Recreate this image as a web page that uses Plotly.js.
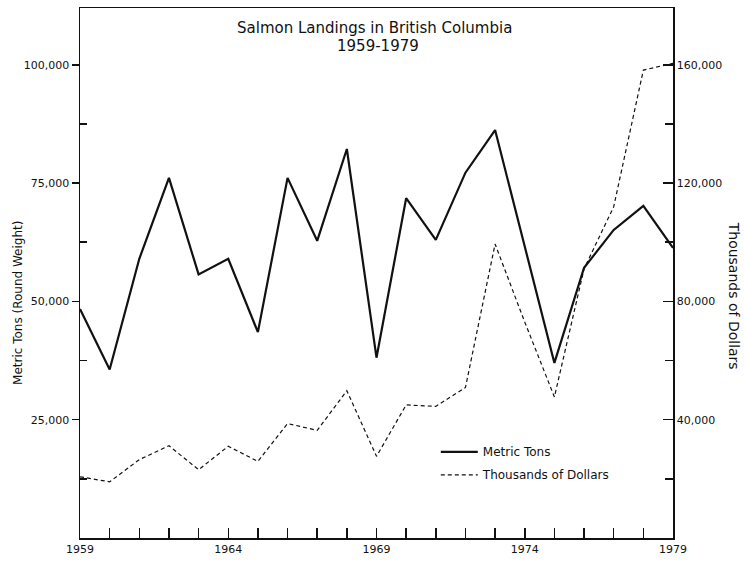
<!DOCTYPE html>
<html>
<head>
<meta charset="utf-8">
<script src="https://cdn.plot.ly/plotly-3.0.1.min.js"></script>
<style>
  html, body { margin: 0; padding: 0; background: #fff; }
  #chart { width: 744px; height: 562px; }
</style>
</head>
<body>
<div id="chart"></div>
<script>
// ---- data ----
const years = [1959,1960,1961,1962,1963,1964,1965,1966,1967,1968,1969,1970,1971,1972,1973,1974,1975,1976,1977,1978,1979];
const metricTons = [48400,35600,59000,76100,55700,59000,43500,76100,62800,82200,38100,71800,63000,77200,86200,61500,37000,57100,65100,70200,61300];
const thousandsDollars = [20700,19000,26500,31200,23100,31000,25900,38700,36400,49800,27600,45000,44500,50900,99400,73000,47700,91000,112000,158200,160500];

const xTickVals = [1959,1964,1969,1974,1979];
const leftTickVals = [25000,50000,75000,100000];
const leftMinorVals = [12500,37500,62500,87500];
const rightTickVals = [40000,80000,120000,160000];
const rightMinorVals = [20000,60000,100000,140000];

const FONT = 'DejaVu Sans, Liberation Sans, sans-serif';
const INK = '#111';

const traces = [
  {
    x: years, y: metricTons, type: 'scatter', mode: 'lines',
    name: 'Metric Tons', yaxis: 'y', legendgroup: 'a',
    line: { color: INK, width: 2.2 }
  },
  {
    x: years, y: thousandsDollars, type: 'scatter', mode: 'lines',
    name: 'Thousands of Dollars', yaxis: 'y2', legendgroup: 'b',
    line: { color: INK, width: 1.2, dash: '4px,3px' }
  }
];

const layout = {
  width: 744, height: 562,
  margin: { l: 80, r: 71, t: 8, b: 24 },
  paper_bgcolor: '#fff', plot_bgcolor: '#fff',
  font: { family: FONT, color: INK, size: 11 },
  showlegend: true,
  legend: {
    x: 0.6, y: 0.19, xanchor: 'left', yanchor: 'top',
    bgcolor: 'rgba(0,0,0,0)', borderwidth: 0,
    font: { family: FONT, size: 12, color: INK },
    itemwidth: 37,
    tracegroupgap: 4
  },
  xaxis: {
    range: [1959, 1979], tickmode: 'array', tickvals: xTickVals,
    ticks: 'inside', ticklen: 10, tickwidth: 1.5, tickcolor: INK,
    showline: true, linecolor: INK, linewidth: 1.5, mirror: true,
    showgrid: false, zeroline: false,
    minor: { dtick: 1, tick0: 1959, ticks: 'inside', ticklen: 10, tickwidth: 1.5, tickcolor: INK, showgrid: false },
    tickfont: { size: 11 }
  },
  yaxis: {
    range: [0, 112000], tickmode: 'array', tickvals: leftTickVals,
    tickformat: ',d',
    ticks: 'outside', ticklen: 7, tickwidth: 1.5, tickcolor: INK,
    showline: true, linecolor: INK, linewidth: 1.5,
    showgrid: false, zeroline: false,
    minor: { tickmode: 'array', tickvals: leftMinorVals, ticks: 'inside', ticklen: 7, tickwidth: 1.5, tickcolor: INK, showgrid: false },
    tickfont: { size: 11 }
  },
  yaxis2: {
    range: [0, 179200], overlaying: 'y', side: 'right',
    tickmode: 'array', tickvals: rightTickVals, tickformat: ',d',
    ticks: 'inside', ticklen: 10, tickwidth: 1.5, tickcolor: INK,
    showline: true, linecolor: INK, linewidth: 1.5,
    showgrid: false, zeroline: false,
    minor: { tickmode: 'array', tickvals: rightMinorVals, ticks: 'inside', ticklen: 8, tickwidth: 1.5, tickcolor: INK, showgrid: false },
    tickfont: { size: 11 }
  },
  annotations: [
    { text: 'Salmon Landings in British Columbia', xref: 'paper', yref: 'paper',
      x: 0.496, y: 0.962, xanchor: 'center', yanchor: 'middle', showarrow: false,
      font: { family: FONT, size: 15, color: INK } },
    { text: '1959-1979', xref: 'paper', yref: 'paper',
      x: 0.503, y: 0.929, xanchor: 'center', yanchor: 'middle', showarrow: false,
      font: { family: FONT, size: 15, color: INK } },
    { text: 'Metric Tons (Round Weight)', xref: 'paper', yref: 'paper',
      x: -0.105, y: 0.443, xanchor: 'center', yanchor: 'middle', showarrow: false,
      textangle: -90, font: { family: FONT, size: 12, color: INK } },
    { text: 'Thousands of Dollars', xref: 'paper', yref: 'paper',
      x: 1.103, y: 0.457, xanchor: 'center', yanchor: 'middle', showarrow: false,
      textangle: 90, font: { family: FONT, size: 14, color: INK } }
  ]
};

Plotly.newPlot('chart', traces, layout, { displayModeBar: false, staticPlot: true });
</script>
</body>
</html>
